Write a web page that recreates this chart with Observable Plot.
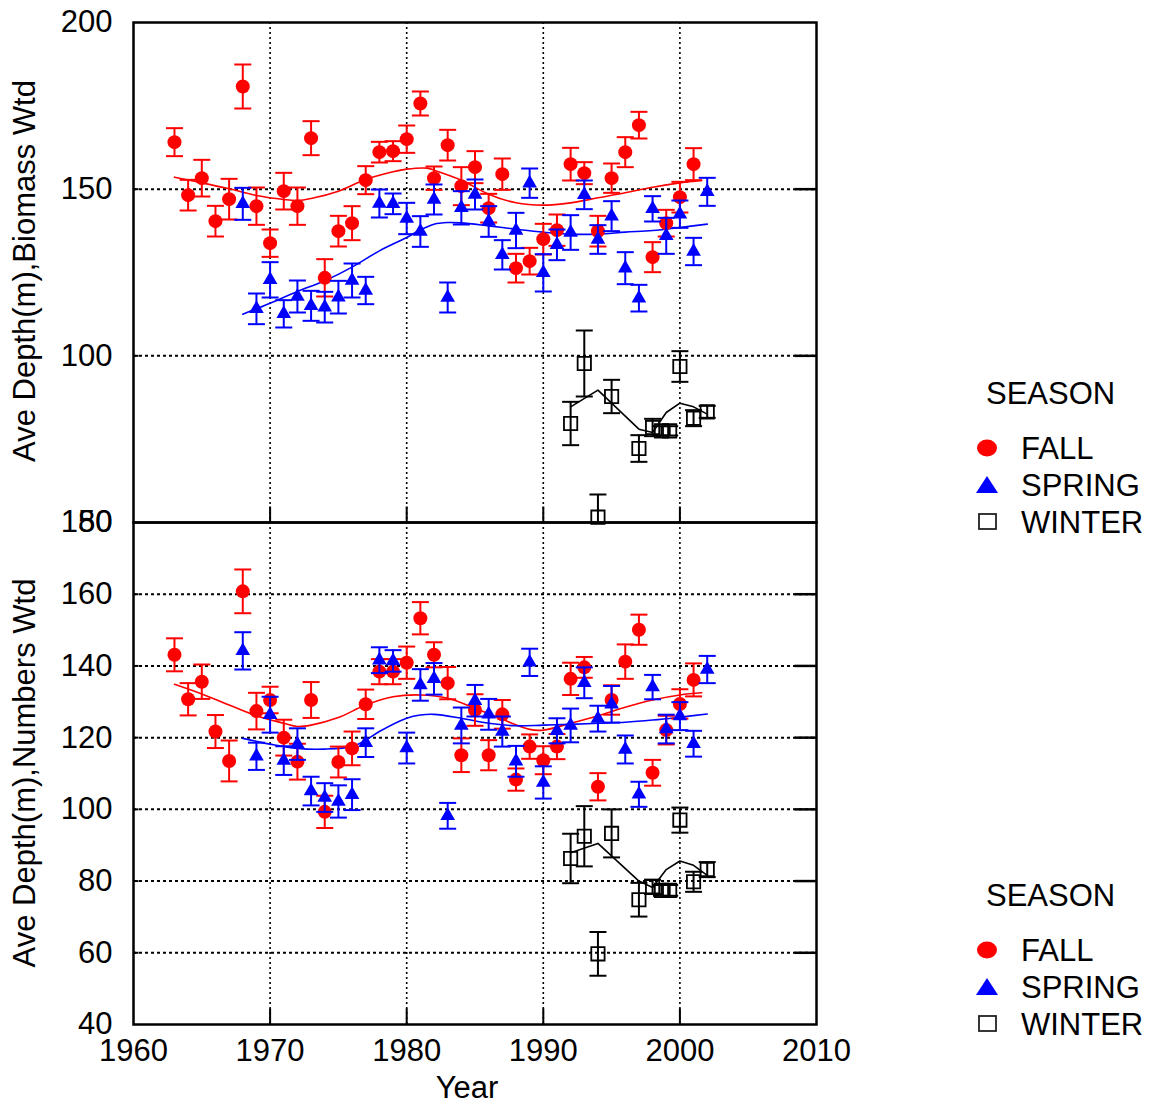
<!DOCTYPE html>
<html>
<head>
<meta charset="utf-8">
<script src="https://cdn.jsdelivr.net/npm/d3@7"></script>
<script src="https://cdn.jsdelivr.net/npm/@observablehq/plot@0.6"></script>
<style>
  body { margin: 0; background: white; }
  #wrap { position: relative; width: 1162px; height: 1105px; background: white; overflow: hidden;
          font-family: "Liberation Sans", Arial, sans-serif; }
  #wrap svg.plotsvg { position: absolute; left: 0; overflow: visible; }
  #overlay { position: absolute; left: 0; top: 0; }
</style>
</head>
<body>
<div id="wrap"></div>
<script>
// ---------------- DATA ----------------
const xTicks = [1960, 1970, 1980, 1990, 2000, 2010];
const xGrid = [1970, 1980, 1990, 2000];
const bioTicks = [50, 100, 150, 200];
const bioGrid = [100, 150];
const numTicks = [40, 60, 80, 100, 120, 140, 160, 180];
const numGrid = [60, 80, 100, 120, 140, 160];

const seasons = ["FALL", "SPRING", "WINTER"];

const fallYears = [1963,1964,1965,1966,1967,1968,1969,1970,1971,1972,1973,1974,1975,1976,1977,1978,1979,1980,1981,
  1982,1983,1984,1985,1986,1987,1988,1989,1990,1991,1992,1993,1994,1995,1996,1997,1998,1999,2000,2001];
const fallBio = [164.1,148.2,153.3,140.4,147.0,180.8,144.9,133.8,149.4,144.9,165.3,123.4,137.4,139.8,152.7,161.1,161.4,165.0,175.7,
  153.3,163.2,150.9,156.6,144.3,154.5,126.3,128.4,135.0,137.7,157.5,154.8,137.4,153.3,161.1,169.2,129.6,139.8,147.6,157.5];
const fallBioErr = [4.2,4.6,5.5,4.6,6.1,6.6,5.6,4.1,5.5,5.6,5.1,5.6,4.6,5.1,4.2,3.1,3.0,4.1,3.6,
  3.5,4.6,5.7,4.8,4.3,4.7,4.3,4.0,4.6,4.7,4.9,3.3,4.6,4.4,4.5,4.0,4.5,4.0,4.6,4.8];
const fallNum = [143.1,130.7,135.6,121.7,113.5,160.8,127.4,130.5,120.0,113.3,130.5,99.3,113.2,117.0,129.3,138.4,138.4,140.9,153.3,
  143.1,135.2,115.1,127.7,115.1,126.5,108.3,117.5,113.7,117.5,136.4,139.6,106.3,130.5,141.2,150.1,110.2,122.1,129.4,136.1];
const fallNumErr = [4.6,4.5,4.8,4.6,5.7,6.1,5.1,3.7,5.0,5.0,5.0,4.5,4.3,4.7,4.1,3.5,3.5,4.5,4.5,
  3.5,4.5,4.7,4.4,4.2,4.0,3.1,3.4,3.9,3.5,4.5,2.9,3.8,4.1,4.8,4.2,3.6,4.0,4.1,4.6];

const springYears = [1968,1969,1970,1971,1972,1973,1974,1975,1976,1977,1978,1979,1980,1981,
  1982,1983,1984,1985,1986,1987,1988,1989,1990,1991,1992,1993,1994,1995,1996,1997,1998,1999,2000,2001,2002];
const springBio = [145.6,114.1,122.8,112.6,117.8,115.0,114.6,117.6,122.6,119.6,145.7,145.6,141.2,137.3,
  146.9,117.5,144.4,148.4,140.3,130.3,137.6,151.8,124.9,133.3,137.0,148.3,134.9,141.9,126.3,117.3,144.1,136.0,142.5,131.3,149.2];
const springBioErr = [4.8,4.6,5.3,4.1,4.8,4.5,4.6,4.9,5.1,4.1,4.2,3.1,4.7,4.6,
  4.5,4.5,5.0,4.5,4.6,4.4,5.3,4.4,5.6,4.6,5.2,4.3,4.3,4.5,4.8,4.0,3.8,5.4,4.1,4.1,4.2];
const springNum = [144.2,114.8,126.4,113.6,118.2,105.1,103.3,102.2,104.1,118.6,141.6,141.4,117.1,134.7,
  136.4,98.2,123.4,130.3,126.5,121.7,113.4,141.0,107.5,121.9,123.4,135.3,125.3,129.3,116.7,104.2,134.1,122.4,126.0,118.3,139.0];
const springNumErr = [5.2,3.8,5.0,4.0,4.4,4.0,4.0,4.5,4.3,4.0,3.6,3.0,4.3,4.4,
  4.4,3.6,5.0,4.4,4.3,4.2,4.3,3.8,4.5,3.5,4.7,4.3,3.6,5.1,3.9,3.5,3.4,4.0,3.9,3.6,3.8];

const winterYears = [1992,1993,1994,1995,1997,1998,1998.65,1999.25,2000,2001,2002];
const winterBio = [79.7,97.7,51.6,87.8,72.2,78.5,77.5,77.5,96.8,81.3,83.2];
const winterBioErr = [6.5,9.9,6.8,5.0,4.0,2.6,1.4,1.4,4.6,2.4,1.8];
const winterNum = [86.3,92.5,59.7,93.3,74.8,78.4,77.4,77.4,97.0,79.8,83.2];
const winterNumErr = [6.9,8.4,6.1,6.7,4.7,2.0,1.5,1.5,3.5,2.8,2.1];

// smoothed fits
const fallFitBioYears = [1963,1965,1967,1969,1971,1972,1973,1975,1977,1979,1980,1981.5,1982,1984,1986,1988,1990,1992,1994,1996,1998,2000,2001.6];
const fallFitBio = [153.6,151.9,150.1,148.1,146.9,146.6,147.2,149.4,152.9,155.2,156.0,156.3,155.7,152.7,148.5,145.9,145.2,145.9,147.4,148.9,150.6,151.9,152.6];
const springFitBioYears = [1968,1970,1972,1974,1976,1978,1980,1981,1982,1983,1984,1986,1988,1990,1992,1994,1996,1998,2000,2002];
const springFitBio = [112.5,115.8,119.3,122.5,126.6,131.5,135.5,137.8,139.5,140.0,139.9,139.0,138.0,137.1,136.5,136.5,137.1,137.6,138.5,139.5];
const winterFitYears = [1992,1994,1997,1998,1999,2000,2001,2002];
const winterFitBio = [84.7,89.7,78.0,77.0,83.0,85.8,84.7,82.5];

const fallFitNumYears = [1963,1965,1967,1969,1971,1972,1973,1975,1977,1979,1981,1983,1985,1987,1989,1990,1992,1994,1996,1998,2000,2001.6];
const fallFitNum = [134.9,132.2,129.1,126.1,124.0,123.1,123.5,125.6,129.1,131.4,131.9,131.0,128.2,125.1,122.3,122.1,124.0,126.1,128.5,130.5,131.9,132.5];
const springFitNumYears = [1968,1970,1972,1974,1976,1977,1978,1980,1981,1982,1984,1986,1988,1990,1992,1994,1996,1998,2000,2002];
const springFitNum = [119.8,118.2,117.0,116.8,117.5,119.3,121.7,125.4,126.3,126.5,125.4,124.0,123.3,123.5,123.7,124.0,124.3,124.9,125.7,126.6];
const winterFitNum = [87.9,90.5,80.0,78.2,83.2,85.6,84.4,81.6];

// ---------------- HELPERS ----------------
const colors = {FALL: "#ff0000", SPRING: "#0000ff", WINTER: "#000000"};
const rows = (years, vals, errs, season) => years.map((year, i) => ({year, v: vals[i], e: errs[i], season}));
const fitRows = (years, vals) => years.map((year, i) => ({year, v: vals[i]}));
const segSym = (x0, y0, x1, y1) => ({draw(ctx) { ctx.moveTo(x0, y0); ctx.lineTo(x1, y1); }});
const capSym = segSym(-8.5, 0, 8.5, 0);
const rightTickSym = segSym(-22, 0, 0, 0);
const leftTickSym = segSym(0, 0, 5, 0);
const upTickSym = segSym(0, 0, 0, -16);

const FONT = '"Liberation Sans", Arial, Helvetica, sans-serif';

function seriesMarks(data, dom, symbolOpts) {
  const color = colors[data[0].season];
  const [lo, hi] = dom;
  const caps = data.flatMap(d => [{year: d.year, cy: d.v - d.e}, {year: d.year, cy: d.v + d.e}])
                   .filter(c => c.cy >= lo && c.cy <= hi);
  return [
    Plot.ruleX(data, {x: "year", y1: d => Math.max(d.v - d.e, lo), y2: d => Math.min(d.v + d.e, hi),
                      stroke: color, strokeWidth: 2}),
    Plot.dot(caps, {x: "year", y: "cy", symbol: capSym, stroke: color, strokeWidth: 2, fill: "none"}),
    Plot.dot(data, {x: "year", y: "v", ...symbolOpts})
  ];
}

function panel({ticks, grid, dom, fall, spring, winter, fallFit, springFit, winterFit, height, mTop, mBottom, showX}) {
  const marks = [
    Plot.gridX(xGrid, {stroke: "black", strokeOpacity: 1, strokeWidth: 1.6, strokeDasharray: "2,3"}),
    Plot.gridY(grid, {stroke: "black", strokeOpacity: 1, strokeWidth: 2, strokeDasharray: "3,3"}),
    Plot.dot(grid.map(v => ({v})), {x: () => 2010, y: "v", symbol: rightTickSym, stroke: "black", strokeWidth: 2.5, fill: "none"}),
    Plot.dot(grid.map(v => ({v})), {x: () => 1960, y: "v", symbol: leftTickSym, stroke: "black", strokeWidth: 2, fill: "none"}),
    Plot.dot(xGrid.map(x => ({x})), {x: "x", y: () => dom[0], symbol: upTickSym, stroke: "black", strokeWidth: 2, fill: "none"}),
    Plot.axisY(ticks, {tickSize: 0, tickPadding: 21, label: null, fontSize: 31, fill: "black", tickFormat: d => String(d)}),
    Plot.line(fallFit, {x: "year", y: "v", stroke: colors.FALL, strokeWidth: 1.6, curve: "catmull-rom"}),
    Plot.line(springFit, {x: "year", y: "v", stroke: colors.SPRING, strokeWidth: 1.6, curve: "catmull-rom"}),
    Plot.line(winterFit, {x: "year", y: "v", stroke: colors.WINTER, strokeWidth: 1.6}),
    ...seriesMarks(fall, dom, {symbol: "circle", r: 7, fill: colors.FALL, stroke: "none"}),
    ...seriesMarks(spring, dom, {symbol: "triangle2", r: 7, fill: colors.SPRING, stroke: "none"}),
    ...seriesMarks(winter, dom, {symbol: "square", r: 7.5, fill: "none", stroke: colors.WINTER, strokeWidth: 1.8}),
    Plot.frame({stroke: "black", strokeWidth: 2.5})
  ];
  if (showX) marks.push(Plot.axisX(xTicks, {tickSize: 0, tickPadding: 14, label: null, fontSize: 31, fill: "black", tickFormat: d => String(d)}));
  return Plot.plot({
    width: 830, height, marginLeft: 133, marginRight: 14, marginTop: mTop, marginBottom: mBottom,
    x: {domain: [1960, 2010], axis: null},
    y: {domain: dom, axis: null},
    style: {fontFamily: FONT, fontSize: "31px", background: "transparent", overflow: "visible", color: "black"},
    marks
  });
}

const wrap = document.getElementById("wrap");

const topPlot = panel({
  ticks: bioTicks, grid: bioGrid, dom: [50, 200],
  fall: rows(fallYears, fallBio, fallBioErr, "FALL"),
  spring: rows(springYears, springBio, springBioErr, "SPRING"),
  winter: rows(winterYears, winterBio, winterBioErr, "WINTER"),
  fallFit: fitRows(fallFitBioYears, fallFitBio),
  springFit: fitRows(springFitBioYears, springFitBio),
  winterFit: fitRows(winterFitYears, winterFitBio),
  height: 540, mTop: 22, mBottom: 18, showX: false
});
topPlot.classList.add("plotsvg");
topPlot.style.top = "0px";
wrap.appendChild(topPlot);

const botPlot = panel({
  ticks: numTicks, grid: numGrid, dom: [40, 180],
  fall: rows(fallYears, fallNum, fallNumErr, "FALL"),
  spring: rows(springYears, springNum, springNumErr, "SPRING"),
  winter: rows(winterYears, winterNum, winterNumErr, "WINTER"),
  fallFit: fitRows(fallFitNumYears, fallFitNum),
  springFit: fitRows(springFitNumYears, springFitNum),
  winterFit: fitRows(winterFitYears, winterFitNum),
  height: 605, mTop: 22, mBottom: 81, showX: true
});
botPlot.classList.add("plotsvg");
botPlot.style.top = "500px";
wrap.appendChild(botPlot);

// ---------------- TITLES & LEGENDS ----------------
const ov = d3.select(wrap).append("svg").attr("id", "overlay").attr("width", 1162).attr("height", 1105)
  .style("font-family", FONT).style("font-size", "31px");

ov.append("text").attr("transform", "translate(35,271) rotate(-90)").attr("text-anchor", "middle")
  .text("Ave Depth(m),Biomass Wtd");
ov.append("text").attr("transform", "translate(35,773) rotate(-90)").attr("text-anchor", "middle")
  .text("Ave Depth(m),Numbers Wtd");
ov.append("text").attr("x", 467).attr("y", 1098).attr("text-anchor", "middle").text("Year");

function legend(y0) {
  const g = ov.append("g");
  g.append("text").attr("x", 986).attr("y", y0 + 11).text("SEASON");
  const items = [
    {name: seasons[0], dy: 55}, {name: seasons[1], dy: 92}, {name: seasons[2], dy: 129}
  ];
  items.forEach(it => {
    const cy = y0 + it.dy;
    if (it.name === "FALL") g.append("ellipse").attr("cx", 987).attr("cy", cy).attr("rx", 10).attr("ry", 8.5).attr("fill", colors.FALL);
    if (it.name === "SPRING") g.append("path").attr("d", `M987,${cy - 9}L998,${cy + 8}L976,${cy + 8}Z`).attr("fill", colors.SPRING);
    if (it.name === "WINTER") g.append("rect").attr("x", 979).attr("y", cy - 8).attr("width", 17).attr("height", 15)
      .attr("fill", "none").attr("stroke", "#222").attr("stroke-width", 1.8);
    g.append("text").attr("x", 1021).attr("y", cy + 11).text(it.name);
  });
}
legend(393);
legend(895);
</script>
</body>
</html>
